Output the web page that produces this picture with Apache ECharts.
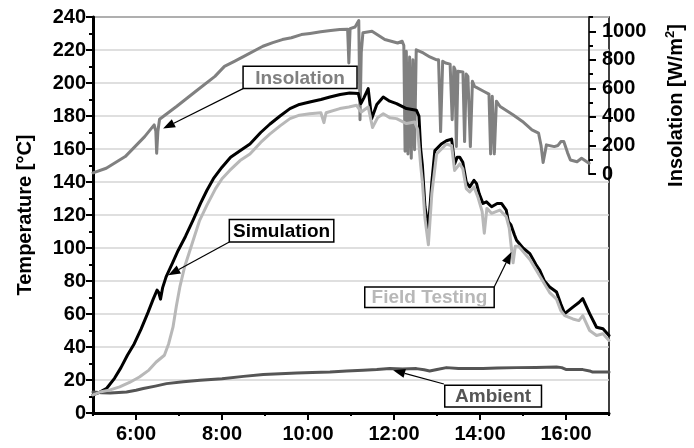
<!DOCTYPE html>
<html>
<head>
<meta charset="utf-8">
<script src="https://cdn.jsdelivr.net/npm/echarts@6/dist/echarts.min.js"></script>
<style>
  html, body { margin: 0; padding: 0; background: #fff; }
  #chart { width: 694px; height: 448px; }
</style>
</head>
<body>
<div id="chart"></div>
<script>
// Time of day in decimal hours, values read per series.
const evenHours = [6, 8, 10, 12, 14, 16];
const insolationTicks = [0, 200, 400, 600, 800, 1000];

// Collector temperature, simulation [h, °C]
const simulation = [
  [5.00,11],[5.15,12.5],[5.32,15],[5.50,21],[5.65,27.5],[5.80,35],[5.96,42],[6.12,51],[6.28,61],[6.40,69],
  [6.49,74.5],[6.53,73],[6.57,69],[6.62,76],[6.70,82.5],[6.85,91],[6.98,98.5],[7.15,107],[7.33,117],[7.50,127],
  [7.65,135],[7.80,142],[8.00,149],[8.20,155],[8.42,159],[8.65,163],[8.90,170],[9.11,175],[9.35,180],[9.58,184.5],
  [9.80,187],[10.04,188.5],[10.30,190],[10.51,191.5],[10.75,193],[10.97,194],[11.17,193.6],[11.23,187.5],[11.30,191],
  [11.40,196.6],[11.48,178.4],[11.60,187],[11.75,191.5],[11.90,189],[12.06,187.5],[12.29,184.5],[12.52,183.5],
  [12.58,180],[12.62,160],[12.66,150],[12.72,125],[12.80,112],[12.88,140],[12.95,159],[13.10,163],[13.22,165],
  [13.34,166],[13.41,151],[13.47,155],[13.53,155],[13.60,152],[13.68,140],[13.76,137],[13.86,141],[13.92,139],
  [13.98,133],[14.07,127],[14.15,128],[14.27,125],[14.40,127],[14.50,127],[14.61,123],[14.66,116],[14.72,114],
  [14.80,108],[14.85,104.7],[15.00,100],[15.16,96.6],[15.30,90],[15.39,86.5],[15.50,80],[15.62,76.4],[15.78,73.3],
  [15.88,66],[15.97,60.2],[16.16,64.2],[16.30,67],[16.39,69.3],[16.55,60.2],[16.71,52],[16.86,51.1],[17.00,47]
];

// Collector temperature, field testing [h, °C]
const fieldTesting = [
  [5.00,11],[5.16,12.7],[5.40,14],[5.62,15.8],[5.85,18.5],[6.08,21.8],[6.30,26],[6.47,30.9],[6.66,35],[6.76,42],
  [6.86,52],[6.94,65],[7.02,76.4],[7.13,88.5],[7.33,104.7],[7.48,116.8],[7.65,126],[7.85,136],[8.00,142],[8.18,147],
  [8.42,153],[8.65,157],[8.90,164],[9.11,169],[9.35,174],[9.58,178.4],[9.80,180.5],[10.04,181.4],[10.30,182],
  [10.37,176],[10.42,182],[10.74,184.5],[10.95,185.5],[11.13,186.5],[11.24,182.4],[11.40,185.5],[11.50,173],
  [11.62,179],[11.75,181.4],[11.90,179],[12.06,178.4],[12.29,175.4],[12.48,176.4],[12.55,172],[12.62,150],
  [12.66,140],[12.72,118],[12.80,102],[12.88,133],[12.99,157],[13.22,163],[13.34,162],[13.41,147],[13.53,151],
  [13.60,148],[13.68,136],[13.76,134],[13.86,137],[13.95,131],[14.05,122],[14.10,109],[14.16,124],[14.27,121],
  [14.46,123],[14.61,119],[14.68,112],[14.73,100],[14.77,91],[14.82,101],[14.90,101],[15.16,93],[15.39,83],
  [15.62,73],[15.78,69],[15.88,62],[15.97,59],[16.16,57],[16.30,56],[16.39,59],[16.55,50],[16.71,47],[16.86,48],[17.00,44]
];

// Ambient air temperature [h, °C]
const ambient = [
  [5.00,12.7],[5.20,12.3],[5.40,12.1],[5.60,12.4],[5.78,12.7],[6.00,13.8],[6.17,14.8],[6.45,16.3],[6.71,17.8],
  [7.10,18.9],[7.49,19.8],[8.00,20.8],[8.50,22.2],[8.96,23.4],[9.35,23.8],[9.74,24.2],[10.10,24.5],[10.51,24.8],
  [10.90,25.4],[11.28,25.9],[11.60,26.3],[11.90,26.9],[12.20,26.6],[12.52,26.9],[12.70,26.2],[12.83,25.5],
  [13.00,26.4],[13.22,27.5],[13.50,27.0],[13.76,26.9],[14.07,26.9],[14.40,27.2],[14.85,27.5],[15.30,27.6],
  [15.78,27.9],[15.90,27.5],[16.01,26.3],[16.39,26.3],[16.55,25.5],[16.62,24.8],[17.00,24.8]
];

// Solar insolation [h, W/m²]
const insolation = [
  [5.00,8],[5.32,40],[5.78,122],[6.25,262],[6.48,344],[6.52,300],[6.54,145],[6.57,300],[6.61,384],[7.02,473],
  [7.48,578],[7.95,684],[8.18,754],[8.42,789],[8.65,824],[9.11,895],[9.35,920],[9.58,942],[9.80,955],[10.04,977],
  [10.25,985],[10.51,996],[10.75,1005],[10.97,1012],[11.16,1015],[11.19,778],[11.22,1018],[11.34,1030],[11.43,1075],
  [11.46,380],[11.49,850],[11.53,989],[11.75,1000],[12.06,942],[12.37,918],[12.48,930],[12.52,900],[12.55,160],
  [12.58,860],[12.62,140],[12.66,820],[12.70,110],[12.74,800],[12.78,170],[12.82,870],[12.99,848],[13.15,820],
  [13.30,801],[13.36,800],[13.41,297],[13.46,790],[13.53,778],[13.64,770],[13.69,380],[13.73,750],[13.76,731],
  [13.79,192],[13.83,720],[13.95,715],[13.99,227],[14.03,700],[14.07,684],[14.13,192],[14.18,650],[14.23,614],
  [14.46,578],[14.58,560],[14.62,141],[14.66,545],[14.71,141],[14.76,510],[14.85,473],[15.16,415],[15.39,368],
  [15.62,309],[15.78,286],[15.84,200],[15.89,80],[15.97,204],[16.16,192],[16.25,200],[16.32,227],[16.39,227],
  [16.48,150],[16.55,98],[16.71,86],[16.82,110],[17.00,75]
];

// Callout boxes: box corners and arrow in (hour, °C) of the temperature axes
const callouts = [
  { text: 'Insolation',    color: '#808080', box: [8.49, 210.1, 11.14, 196.6], from: [8.49, 196.6], tip: [6.63, 172.4] },
  { text: 'Simulation',    color: '#000000', box: [8.17, 117.2, 10.60, 103.6], from: [8.17, 103.6], tip: [6.75, 83.5] },
  { text: 'Field Testing', color: '#b8b8b8', box: [11.32, 76.4, 14.33, 63.9], from: [14.33, 76.4], tip: [14.73, 97.6] },
  { text: 'Ambient',       color: '#555555', box: [13.18, 16.8, 15.43, 3.6],  from: [13.16, 17.6], tip: [11.98, 25.9] }
];

const FONT = '"Liberation Sans", Arial, Helvetica, sans-serif';
const tickFont = { fontFamily: FONT, fontWeight: 'bold', fontSize: 20, color: '#000' };

const chart = echarts.init(document.getElementById('chart'), null, { renderer: 'canvas' });

function lineSeries(name, data, color, xi, yi, z) {
  return {
    name, type: 'line', data, xAxisIndex: xi, yAxisIndex: yi, z,
    showSymbol: false, symbol: 'none', smooth: false, silent: true,
    lineStyle: { color, width: 3, join: 'round', cap: 'round' }
  };
}

chart.setOption({
  animation: false,
  grid: [
    { left: 93, right: 85, top: 17, bottom: 35, show: true, borderColor: '#000', borderWidth: 1.5 },
    { left: 93, right: 85, top: 17, bottom: 274 }
  ],
  xAxis: [
    {
      type: 'value', gridIndex: 0, min: 5, max: 17, interval: 1, position: 'bottom',
      axisLine: { lineStyle: { color: '#000', width: 3 } },
      axisTick: { length: 3, lineStyle: { color: '#000', width: 2 } },
      axisLabel: Object.assign({ margin: 11, formatter: v => (v % 2 === 0 ? v + ':00' : '') }, tickFont),
      splitLine: { show: false }
    },
    {
      type: 'value', gridIndex: 0, min: 5, max: 17, position: 'bottom', offset: 0,
      axisLine: { show: false },
      axisTick: { show: true, customValues: evenHours, length: 7, lineStyle: { color: '#000', width: 2 } },
      axisLabel: { show: false },
      splitLine: { show: false }
    },
    { type: 'value', gridIndex: 1, min: 5, max: 17, show: false }
  ],
  yAxis: [
    {
      type: 'value', gridIndex: 0, min: 0, max: 240, interval: 20, position: 'left',
      name: 'Temperature [°C]', nameLocation: 'middle', nameGap: 58,
      nameTextStyle: { fontFamily: FONT, fontWeight: 'bold', fontSize: 20, color: '#000' },
      axisLine: { show: true, lineStyle: { color: '#000', width: 3 } },
      axisTick: { show: true, length: 7, lineStyle: { color: '#000', width: 2 } },
      minorTick: { show: true, splitNumber: 2, length: 4, lineStyle: { color: '#000', width: 2 } },
      axisLabel: Object.assign({ margin: 7 }, tickFont),
      splitLine: { show: true, lineStyle: { color: '#d4d4d4', width: 1.5 } }
    },
    {
      type: 'value', gridIndex: 1, min: 0, max: 1100, interval: 100, position: 'right',
      name: '{a|Insolation [W/m}{s|2}{a|]}', nameLocation: 'middle', nameGap: 75,
      nameTextStyle: {
        padding: [0, 20, 0, 0],
        rich: {
          a: { fontFamily: FONT, fontWeight: 'bold', fontSize: 20, color: '#000', lineHeight: 24 },
          s: { fontFamily: FONT, fontWeight: 'bold', fontSize: 13, color: '#000', lineHeight: 24, verticalAlign: 'top' }
        }
      },
      axisLine: { show: true, lineStyle: { color: '#333', width: 2 } },
      axisTick: { show: true, length: 4, lineStyle: { color: '#000', width: 2 } },
      axisLabel: Object.assign({ margin: 13, formatter: v => (v % 200 === 0 ? String(v) : '') }, tickFont),
      splitLine: { show: false }
    },
    {
      type: 'value', gridIndex: 1, min: 0, max: 1100, position: 'right', offset: 0,
      axisLine: { show: false },
      axisTick: { show: true, customValues: insolationTicks, length: 7, lineStyle: { color: '#000', width: 2 } },
      axisLabel: { show: false },
      splitLine: { show: false }
    }
  ],
  series: [
    lineSeries('Ambient', ambient, '#555555', 0, 0, 2),
    lineSeries('Insolation', insolation, '#808080', 2, 1, 3),
    lineSeries('Simulation', simulation, '#000000', 0, 0, 4),
    lineSeries('Field Testing', fieldTesting, '#b8b8b8', 0, 0, 5)
  ]
});

// Callouts placed through the temperature axes
function toPx(p) { return chart.convertToPixel({ xAxisIndex: 0, yAxisIndex: 0 }, p); }
const graphics = [];
callouts.forEach(c => {
  const a = toPx([c.box[0], c.box[1]]);
  const b = toPx([c.box[2], c.box[3]]);
  const f = toPx(c.from);
  const t = toPx(c.tip);
  const dx = t[0] - f[0], dy = t[1] - f[1];
  const len = Math.hypot(dx, dy), ux = dx / len, uy = dy / len;
  const hl = 12, hw = 4.5;
  const bx = t[0] - ux * hl, by = t[1] - uy * hl;
  graphics.push({
    type: 'line', z: 20,
    shape: { x1: f[0], y1: f[1], x2: bx, y2: by },
    style: { stroke: '#000', lineWidth: 1.2 }
  });
  graphics.push({
    type: 'polygon', z: 20,
    shape: { points: [[t[0], t[1]], [bx - uy * hw, by + ux * hw], [bx + uy * hw, by - ux * hw]] },
    style: { fill: '#000' }
  });
  graphics.push({
    type: 'rect', z: 21,
    shape: { x: a[0], y: a[1], width: b[0] - a[0], height: b[1] - a[1] },
    style: { fill: '#fff', stroke: '#000', lineWidth: 1.5 }
  });
  graphics.push({
    type: 'text', z: 22,
    x: (a[0] + b[0]) / 2, y: (a[1] + b[1]) / 2 + 1,
    style: {
      text: c.text, fill: c.color, font: 'bold 19px ' + FONT,
      align: 'center', verticalAlign: 'middle'
    }
  });
});
chart.setOption({ graphic: graphics });
</script>
</body>
</html>
